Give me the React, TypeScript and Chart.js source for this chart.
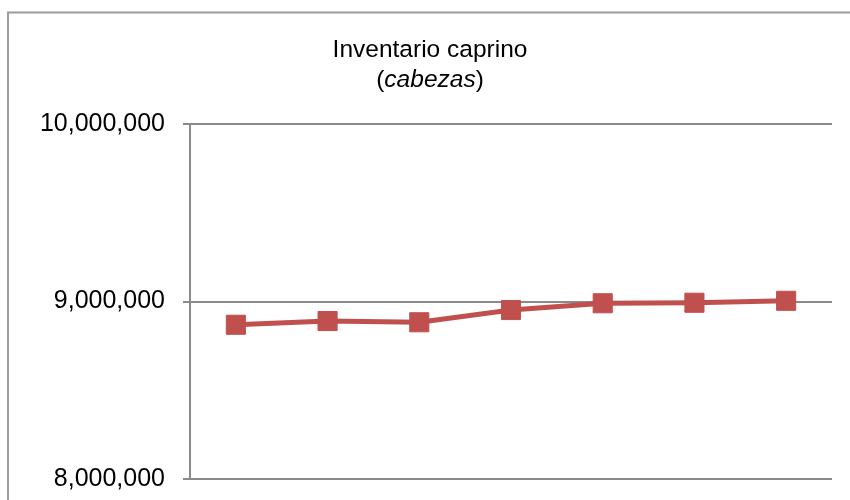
import React, { useEffect, useRef } from "react";
import { Chart, registerables } from "chart.js";

Chart.register(...registerables);

const categories = ["2006", "2007", "2008", "2009", "2010", "2011", "2012"];
const cabezas = [8869000, 8890000, 8883000, 8952000, 8990000, 8993000, 9004000];
const yMin = 8000000;
const yMax = 10000000;
const yStep = 1000000;
const titleLine1 = "Inventario caprino";
const titleLine2 = ["(", "cabezas", ")"];

const FONT = "'Liberation Sans', Arial, sans-serif";
const GRID = "#8a8a8a";
const RED = "#C0504D";

const framePlugin = {
  id: "frameAndTitle",
  afterDraw(chart: any) {
    const ctx = chart.ctx as CanvasRenderingContext2D;
    ctx.save();
    // outer chart border (cropped on right and bottom)
    ctx.strokeStyle = "#9c9c9c";
    ctx.lineWidth = 2;
    ctx.beginPath();
    ctx.moveTo(8, 500);
    ctx.lineTo(8, 12.5);
    ctx.lineTo(850, 12.5);
    ctx.stroke();

    // title
    const cx = 430;
    ctx.fillStyle = "#000";
    ctx.textBaseline = "alphabetic";
    ctx.textAlign = "left";
    ctx.font = `24.5px ${FONT}`;
    const w1 = ctx.measureText(titleLine1).width;
    ctx.fillText(titleLine1, cx - w1 / 2, 57);

    const normal = `24.5px ${FONT}`;
    const italic = `italic 24.5px ${FONT}`;
    const fonts = [normal, italic, normal];
    let total = 0;
    const widths = titleLine2.map((t, i) => {
      ctx.font = fonts[i];
      const w = ctx.measureText(t).width;
      total += w;
      return w;
    });
    let x = cx - total / 2;
    titleLine2.forEach((t, i) => {
      ctx.font = fonts[i];
      ctx.fillText(t, x, 87);
      x += widths[i];
    });
    ctx.restore();
  },
};

export default function App() {
  const ref = useRef<HTMLCanvasElement | null>(null);
  useEffect(() => {
    if (!ref.current) return;
    const chart = new Chart(ref.current, {
      type: "line",
      data: {
        labels: categories,
        datasets: [
          {
            data: cabezas,
            borderColor: RED,
            backgroundColor: RED,
            borderWidth: 5,
            pointStyle: "rect",
            pointRadius: 13.5,
            pointBorderWidth: 1,
            pointBorderColor: RED,
            pointBackgroundColor: RED,
            tension: 0,
          },
        ],
      },
      options: {
        animation: false,
        responsive: false,
        layout: { padding: { top: 124, right: 18, bottom: 21, left: 0 } },
        plugins: {
          legend: { display: false },
          tooltip: { enabled: false },
          title: { display: false },
        },
        scales: {
          x: {
            type: "category",
            offset: true,
            display: false,
          },
          y: {
            min: yMin,
            max: yMax,
            afterFit: (s: any) => {
              s.width = 190;
              s.paddingTop = 0;
              s.paddingBottom = 0;
            },
            ticks: {
              stepSize: yStep,
              padding: 18,
              color: "#000",
              font: { family: FONT, size: 25 },
              callback: (v: any) => Number(v).toLocaleString("en-US"),
            },
            grid: {
              color: GRID,
              lineWidth: 2,
              tickLength: 7,
              drawTicks: true,
            },
            border: { display: true, color: GRID, width: 2 },
          },
        },
      },
      plugins: [framePlugin],
    });
    return () => chart.destroy();
  }, []);
  return (
    <div style={{ position: "fixed", left: 0, top: 0, width: 850, height: 500, background: "#fff" }}>
      <canvas ref={ref} width={850} height={500} style={{ display: "block" }} />
    </div>
  );
}
